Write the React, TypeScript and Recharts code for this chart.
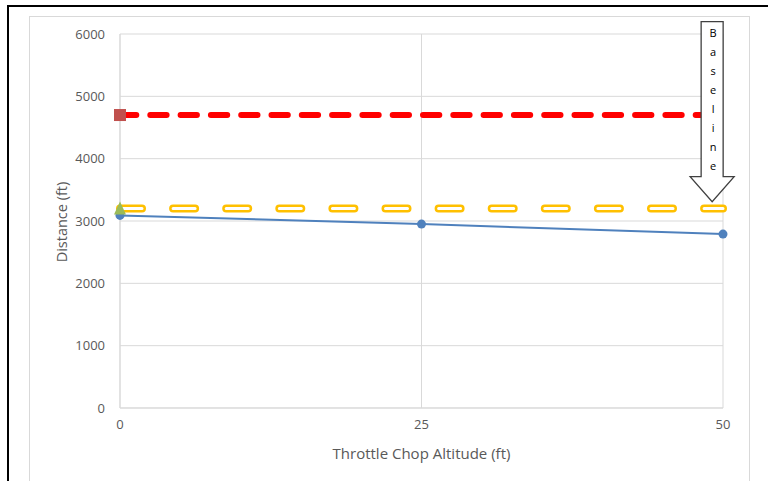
import React from 'react';
import { LineChart, Line, XAxis, YAxis, CartesianGrid } from 'recharts';

const altitudes = [0, 25, 50];
const baselineDistance = [3090, 2950, 2790];
const redLevel = [4700, 4700, 4700];
const yellowLevel = [3200, 3200, 3200];
const xTicks = [0, 25, 50];
const yTicks = [0, 1000, 2000, 3000, 4000, 5000, 6000];
const arrowText = ['B', 'a', 's', 'e', 'l', 'i', 'n', 'e'];
const arrowPoint = { x: 49.1, y: 3310 };

const data = altitudes.map((a, i) => ({
  alt: a,
  blue: baselineDistance[i],
  red: redLevel[i],
  yellow: yellowLevel[i],
}));

const FONT = '"Open Sans", sans-serif';
const TXT = '#595959';

const W = 768;
const H = 481;
const MARGIN = { top: 34, right: 45, bottom: 0, left: 0 };
const Y_AXIS_W = 120;
const X_AXIS_H = 73;
const X_DOMAIN = [0, 50];
const Y_DOMAIN = [0, 6000];

const SquareDot = (props: any) => {
  const { cx, cy, index } = props;
  if (index !== 0) return <g key={`s${index}`} />;
  return <rect key={`s${index}`} x={cx - 6} y={cy - 6} width={12} height={12} fill="#C0504D" />;
};

const TriangleDot = (props: any) => {
  const { cx, cy, index } = props;
  if (index !== 0) return <g key={`t${index}`} />;
  return (
    <path
      key={`t${index}`}
      d={`M${cx},${cy - 7} L${cx + 6},${cy + 6} L${cx - 6},${cy + 6} Z`}
      fill="#9BBB59"
    />
  );
};

const Arrow = ({ cx, cy }: { cx: number; cy: number }) => {
  const d = `M${cx - 11},${cy - 180} L${cx + 11},${cy - 180} L${cx + 11},${cy - 25} L${cx + 22},${cy - 25} L${cx},${cy} L${cx - 22},${cy - 25} L${cx - 11},${cy - 25} Z`;
  return (
    <g>
      <path d={d} fill="#ffffff" stroke="#404040" strokeWidth={1.3} />
      {arrowText.map((ch, i) => (
        <text
          key={i}
          x={cx + 1}
          y={cy - 169 + i * 19}
          textAnchor="middle"
          dominantBaseline="central"
          fontSize={11}
          fontFamily={FONT}
          fill="#000000"
          stroke="none"
        >
          {ch}
        </text>
      ))}
    </g>
  );
};

const YTitle = (props: any) => {
  const vb = props.viewBox || {};
  const x = (vb.x ?? 0) + 61;
  const y = (vb.y ?? 0) + (vb.height ?? 0) / 2 + 1;
  return (
    <text
      x={x}
      y={y}
      transform={`rotate(-90, ${x}, ${y})`}
      textAnchor="middle"
      dominantBaseline="central"
      fontSize={14.5}
      fontFamily={FONT}
      fill={TXT}
    >
      Distance (ft)
    </text>
  );
};

const XTitle = (props: any) => {
  const vb = props.viewBox || {};
  const x = (vb.x ?? 0) + (vb.width ?? 0) / 2;
  const y = (vb.y ?? 0) + 45;
  return (
    <text x={x} y={y} textAnchor="middle" dominantBaseline="central" fontSize={15} fontFamily={FONT} fill={TXT}>
      Throttle Chop Altitude (ft)
    </text>
  );
};

export default function App() {
  const plotLeft = MARGIN.left + Y_AXIS_W;
  const plotWidth = W - plotLeft - MARGIN.right;
  const plotTop = MARGIN.top;
  const plotHeight = H - MARGIN.top - MARGIN.bottom - X_AXIS_H;
  const arrowX = plotLeft + ((arrowPoint.x - X_DOMAIN[0]) / (X_DOMAIN[1] - X_DOMAIN[0])) * plotWidth;
  const arrowY = plotTop + (1 - (arrowPoint.y - Y_DOMAIN[0]) / (Y_DOMAIN[1] - Y_DOMAIN[0])) * plotHeight;

  return (
    <div style={{ position: 'absolute', left: 0, top: 0, width: W, height: H, background: '#fff', overflow: 'hidden' }}>
      <div
        style={{
          position: 'absolute',
          left: 7,
          top: 5,
          width: 900,
          height: 700,
          borderLeft: '2px solid #000',
          borderTop: '2px solid #000',
        }}
      />
      <div
        style={{
          position: 'absolute',
          left: 29,
          top: 16,
          width: 719,
          height: 700,
          border: '1px solid #d9d9d9',
        }}
      />
      <div style={{ position: 'absolute', left: 0, top: 0 }}>
        <LineChart width={W} height={H} data={data} margin={MARGIN}>
          <CartesianGrid stroke="#d9d9d9" strokeWidth={1} />
          <XAxis
            dataKey="alt"
            type="number"
            domain={X_DOMAIN}
            ticks={xTicks}
            height={X_AXIS_H}
            tickLine={false}
            tickSize={0}
            tickMargin={12}
            axisLine={{ stroke: '#d9d9d9' }}
            tick={{ fill: TXT, fontSize: 13, fontFamily: FONT }}
            label={<XTitle />}
          />
          <YAxis
            type="number"
            domain={Y_DOMAIN}
            ticks={yTicks}
            width={Y_AXIS_W}
            tickLine={false}
            tickSize={0}
            tickMargin={15}
            axisLine={{ stroke: '#d9d9d9' }}
            tick={{ fill: TXT, fontSize: 13, fontFamily: FONT }}
            label={<YTitle />}
          />
          <Line
            dataKey="blue"
            stroke="#4F81BD"
            strokeWidth={2}
            dot={{ r: 4.5, fill: '#4F81BD', stroke: '#4F81BD', strokeWidth: 0 }}
            isAnimationActive={false}
          />
          <Line
            dataKey="red"
            stroke="#FF0000"
            strokeWidth={6}
            strokeDasharray="16.3 14"
            strokeLinecap="round"
            dot={SquareDot}
            activeDot={false}
            isAnimationActive={false}
          />
          <Line
            dataKey="yellow"
            stroke="#FFC000"
            strokeWidth={8}
            strokeDasharray="22 31.1"
            strokeLinecap="round"
            dot={false}
            activeDot={false}
            isAnimationActive={false}
          />
          <Line
            dataKey="yellow"
            stroke="#FFFFFF"
            strokeWidth={3}
            strokeDasharray="22 31.1"
            strokeLinecap="round"
            dot={TriangleDot}
            activeDot={false}
            isAnimationActive={false}
          />
        </LineChart>
      </div>
      <svg
        width={W}
        height={H}
        style={{ position: 'absolute', left: 0, top: 0, pointerEvents: 'none' }}
      >
        <Arrow cx={arrowX} cy={arrowY} />
      </svg>
    </div>
  );
}
